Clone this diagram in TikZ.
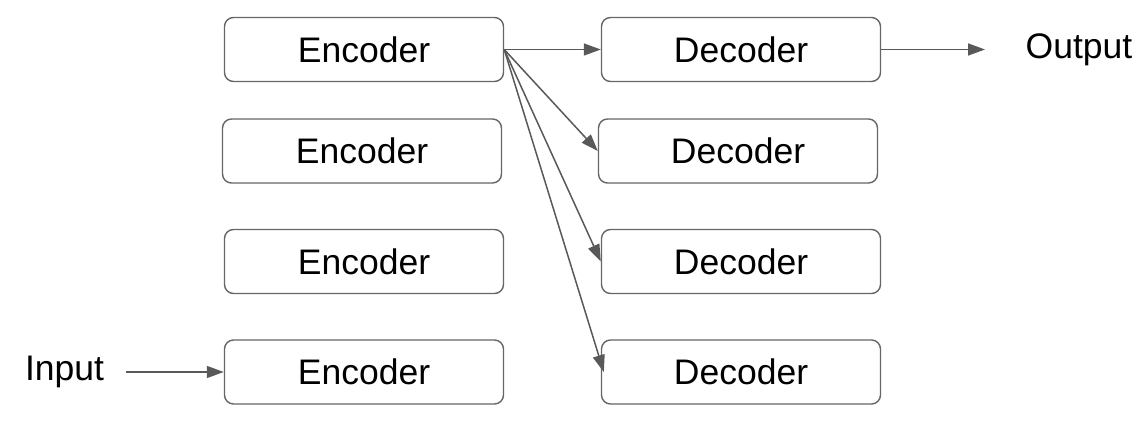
\documentclass[tikz,border=0pt]{standalone}
\usepackage{fontspec}
\setmainfont{Liberation Sans}
\usetikzlibrary{arrows.meta}
\definecolor{edgegray}{HTML}{666666}
\definecolor{arrowgray}{HTML}{595959}
\begin{document}
\begin{tikzpicture}[x=1pt,y=-1pt,
  block/.style={draw=edgegray, line width=1.4pt, rounded corners=9pt,
    minimum width=279pt, minimum height=64pt, inner sep=0pt,
    font=\fontsize{35.5}{38}\selectfont},
  label/.style={inner sep=0pt, font=\fontsize{35.5}{38}\selectfont},
  link/.style={draw=arrowgray, line width=1.5pt,
    -{Triangle[length=17pt,width=12pt]}}]
\useasboundingbox (0,0) rectangle (1147,427);
% encoder column
\node[block] (enc1) at (364,49.5) {Encoder};
\node[block] (enc2) at (362,151) {Encoder};
\node[block] (enc3) at (364,261.5) {Encoder};
\node[block] (enc4) at (364,372) {Encoder};
% decoder column
\node[block] (dec1) at (741,49.5) {Decoder};
\node[block] (dec2) at (738,151) {Decoder};
\node[block] (dec3) at (741,261.5) {Decoder};
\node[block] (dec4) at (741,372) {Decoder};
% terminals
\node[label] (input) at (64.5,372) {Input};
\node[label] (output) at (1079,49.5) {Output};
\coordinate (instart) at (126,372);
\coordinate (outend) at (985,49.5);
% connections
\draw[link] (instart) -- (enc4.west);
\draw[link] (enc1.east) -- (dec1.west);
\draw[link] (enc1.east) -- (dec2.west);
\draw[link] (enc1.east) -- (dec3.west);
\draw[link] (enc1.east) -- ([xshift=3pt]dec4.west);
\draw[link] (dec1.east) -- (outend);
\end{tikzpicture}
\end{document}
